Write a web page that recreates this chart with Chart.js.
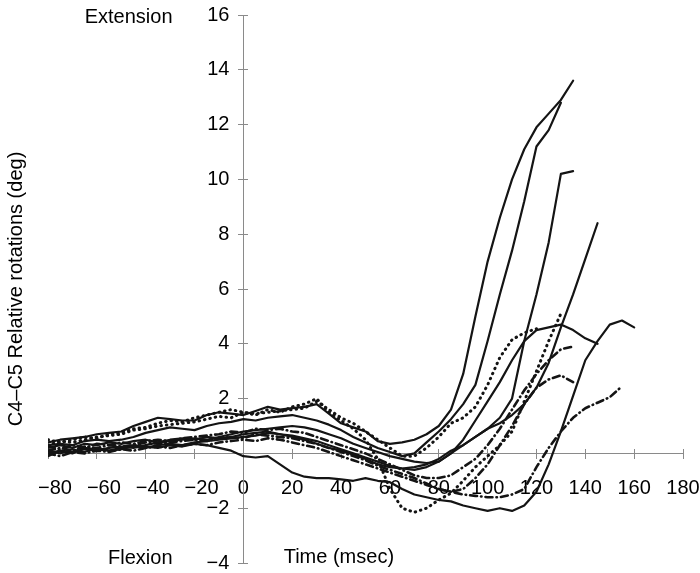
<!DOCTYPE html>
<html>
<head>
<meta charset="utf-8">
<title>C4–C5 relative rotations</title>
<script src="https://cdn.jsdelivr.net/npm/chart.js@4.4.1/dist/chart.umd.min.js"></script>
<style>
  html, body { margin: 0; padding: 0; background: #fff; }
  #wrap { width: 700px; height: 573px; position: relative; }
</style>
</head>
<body>
<div id="wrap"><canvas id="chart"></canvas></div>
<script>
// time axis shared by every trace (msec)
const timeMs = [-80, -75, -70, -65, -60, -55, -50, -45, -40, -35, -30, -25, -20, -15, -10, -5,
    0, 5, 10, 15, 20, 25, 30, 35, 40, 45, 50, 55, 60, 65, 70, 75, 80, 85, 90, 95,
    100, 105, 110, 115, 120, 125, 130, 135, 140, 145, 150, 155, 160];

const xTickValues = [-80, -60, -40, -20, 0, 20, 40, 60, 80, 100, 120, 140, 160, 180];
const yTickValues = [-4, -2, 0, 2, 4, 6, 8, 10, 12, 14, 16];

// relative rotations (deg); each array stops where its trace ends
const solid1 = [0.4, 0.5, 0.55, 0.6, 0.7, 0.75, 0.8, 1.0, 1.15, 1.3, 1.25, 1.2, 1.2, 1.4, 1.5, 1.45,
    1.4, 1.55, 1.7, 1.6, 1.65, 1.7, 1.8, 1.45, 1.1, 0.95, 0.8, 0.45, 0.35, 0.4, 0.5, 0.7, 1.0, 1.6, 2.9, 5.0,
    7.0, 8.6, 10.0, 11.1, 11.9, 12.4, 12.9, 13.6];
const solid2 = [0.3, 0.35, 0.3, 0.45, 0.5, 0.45, 0.5, 0.6, 0.75, 0.85, 0.95, 0.9, 0.85, 1.0, 1.1, 1.15,
    1.25, 1.2, 1.3, 1.35, 1.4, 1.3, 1.2, 1.05, 0.85, 0.6, 0.4, 0.2, 0.05, -0.1, 0.0, 0.4, 0.8, 1.25, 1.8, 2.5,
    4.1, 5.8, 7.4, 9.2, 11.2, 11.8, 12.8];
const solid3 = [0.1, 0.0, 0.15, 0.05, 0.2, 0.1, 0.15, 0.25, 0.2, 0.3, 0.35, 0.3, 0.4, 0.45, 0.5, 0.55,
    0.6, 0.65, 0.75, 0.7, 0.65, 0.55, 0.45, 0.3, 0.15, 0.0, -0.15, -0.3, -0.45, -0.55, -0.6, -0.5, -0.3, 0.0, 0.3, 0.6,
    0.9, 1.3, 2.0, 4.1, 5.8, 7.7, 10.2, 10.3];
const solid4 = [0.2, 0.3, 0.2, 0.35, 0.3, 0.4, 0.35, 0.45, 0.5, 0.4, 0.5, 0.55, 0.5, 0.6, 0.55, 0.6,
    0.7, 0.75, 0.8, 0.7, 0.6, 0.5, 0.35, 0.2, 0.1, -0.05, -0.2, -0.4, -0.5, -0.55, -0.5, -0.4, -0.2, 0.1, 0.3, 0.6,
    0.9, 1.1, 1.4, 1.8, 2.4, 3.3, 4.6, 5.8, 7.1, 8.4];
const solid5 = [0.0, 0.1, 0.05, 0.15, 0.1, 0.2, 0.25, 0.2, 0.3, 0.4, 0.45, 0.5, 0.55, 0.5, 0.6, 0.7,
    0.8, 0.85, 0.9, 0.95, 1.0, 0.95, 0.85, 0.7, 0.55, 0.35, 0.2, 0.05, -0.1, -0.2, -0.3, -0.35, -0.3, 0.0, 0.5, 1.2,
    1.9, 2.6, 3.4, 4.1, 4.5, 4.6, 4.7, 4.5, 4.2, 4.0];
const solid6 = [-0.1, 0.1, 0.0, 0.2, 0.15, 0.1, 0.2, 0.3, 0.25, 0.2, 0.3, 0.25, 0.35, 0.3, 0.2, 0.1,
    -0.1, -0.15, -0.1, -0.4, -0.7, -0.85, -0.9, -0.9, -0.95, -1.0, -0.9, -1.0, -1.05, -1.3, -1.5, -1.6, -1.7, -1.75, -1.9, -2.0,
    -2.1, -2.0, -2.1, -1.9, -1.4, -0.4, 0.8, 2.1, 3.4, 4.1, 4.7, 4.85, 4.6];
const dotted1 = [0.5, 0.4, 0.5, 0.6, 0.55, 0.7, 0.75, 0.9, 0.95, 1.1, 1.2, 1.15, 1.3, 1.4, 1.5, 1.6,
    1.5, 1.4, 1.6, 1.5, 1.7, 1.8, 2.0, 1.5, 1.2, 0.9, 0.5, -0.2, -1.3, -2.0, -2.15, -2.0, -1.7, -1.45, -1.0, -0.5,
    -0.1, 0.3, 0.8, 1.9, 3.0, 4.1, 5.1];
const dotted2 = [0.3, 0.45, 0.4, 0.5, 0.6, 0.65, 0.7, 0.85, 0.9, 1.0, 1.05, 1.1, 1.15, 1.25, 1.35, 1.3,
    1.5, 1.45, 1.5, 1.55, 1.6, 1.65, 1.9, 1.6, 1.3, 1.1, 0.8, 0.5, 0.2, -0.1, -0.1, 0.2, 0.6, 1.1, 1.3, 1.7,
    2.5, 3.5, 4.15, 4.4, 4.55];
const dashDot1 = [0.25, 0.15, 0.3, 0.2, 0.35, 0.3, 0.4, 0.35, 0.45, 0.5, 0.45, 0.55, 0.6, 0.65, 0.7, 0.8,
    0.75, 0.9, 0.85, 0.9, 0.8, 0.75, 0.6, 0.45, 0.3, 0.15, 0.0, -0.2, -0.4, -0.6, -0.8, -0.9, -0.9, -0.8, -0.5, -0.2,
    0.3, 0.9, 1.6, 2.3, 2.9, 3.4, 3.8, 3.9];
const dashDot2 = [0.1, 0.2, 0.1, 0.25, 0.2, 0.3, 0.25, 0.3, 0.4, 0.35, 0.4, 0.45, 0.5, 0.45, 0.55, 0.6,
    0.55, 0.7, 0.65, 0.6, 0.55, 0.45, 0.35, 0.2, 0.05, -0.1, -0.25, -0.45, -0.6, -0.75, -0.9, -1.1, -1.3, -1.4, -1.3, -0.9,
    -0.4, 0.3, 1.0, 1.8, 2.4, 2.7, 2.85, 2.6];
const dashDot3 = [0.0, -0.1, 0.05, 0.0, 0.1, 0.05, 0.15, 0.1, 0.2, 0.25, 0.2, 0.3, 0.35, 0.3, 0.4, 0.45,
    0.5, 0.45, 0.55, 0.5, 0.4, 0.3, 0.2, 0.05, -0.1, -0.25, -0.4, -0.55, -0.7, -0.85, -1.0, -1.15, -1.3, -1.4, -1.5, -1.55,
    -1.6, -1.6, -1.5, -1.3, -0.5, 0.2, 0.8, 1.3, 1.65, 1.85, 2.05, 2.45];

const traces = [
    { values: solid1, style: 'solid' },
    { values: solid2, style: 'solid' },
    { values: solid3, style: 'solid' },
    { values: solid4, style: 'solid' },
    { values: solid5, style: 'solid' },
    { values: solid6, style: 'solid' },
    { values: dotted1, style: 'dotted' },
    { values: dotted2, style: 'dotted' },
    { values: dashDot1, style: 'dashDot' },
    { values: dashDot2, style: 'dashDot' },
    { values: dashDot3, style: 'dashDot' },
];

const lineStyles = {
    solid: { borderWidth: 2.2, borderDash: [] },
    dotted: { borderWidth: 3, borderDash: [0.5, 5] },
    dashDot: { borderWidth: 2.6, borderDash: [7, 4, 0.5, 4] },
};

const FONT = '"Liberation Sans", Arial, Helvetica, sans-serif';
const AXIS_GREY = '#8a8a8a';
const minusLabel = v => (v < 0 ? '\u2212' + Math.abs(v) : String(v));

// scales positioned on the other axis still reserve room; give it back to the plot
const noRoom = (s, dim) => {
    s[dim] = 0;
    s.paddingLeft = s.paddingRight = s.paddingTop = s.paddingBottom = 0;
};

// one axis through the origin; a second copy with negative tick length makes the ticks cross the line
const crossedAxis = (axis, values, min, max, tickLength, ticks) => ({
    type: 'linear',
    axis,
    min,
    max,
    position: axis === 'x' ? { y: 0 } : { x: 0 },
    afterBuildTicks: s => { s.ticks = values.map(v => ({ value: v })); },
    afterFit: s => noRoom(s, axis === 'x' ? 'height' : 'width'),
    border: { display: true, color: AXIS_GREY, width: 1 },
    grid: { drawOnChartArea: false, drawTicks: true, tickLength, color: AXIS_GREY },
    ticks,
});

// free text around the axes
const axisNotes = {
    id: 'axisNotes',
    afterDraw(chart) {
        const { ctx, scales: { x, y }, chartArea } = chart;
        ctx.save();
        ctx.font = '20px ' + FONT;
        ctx.fillStyle = '#000';
        ctx.textBaseline = 'middle';
        ctx.textAlign = 'right';
        ctx.fillText('Extension', x.getPixelForValue(-29), y.getPixelForValue(15.9));
        ctx.fillText('Flexion', x.getPixelForValue(-29), y.getPixelForValue(-3.85));
        ctx.textAlign = 'left';
        ctx.fillText('Time (msec)', x.getPixelForValue(16.5), y.getPixelForValue(-3.8));
        ctx.translate(chartArea.left - 32, y.getPixelForValue(6.0));
        ctx.rotate(-Math.PI / 2);
        ctx.textAlign = 'center';
        ctx.fillText('C4\u2013C5 Relative rotations (deg)', 0, 0);
        ctx.restore();
    }
};

new Chart(document.getElementById('chart'), {
    type: 'line',
    data: {
        datasets: traces.map(t => ({
            data: t.values.map((v, i) => ({ x: timeMs[i], y: v })),
            borderColor: '#141414',
            borderCapStyle: 'round',
            borderJoinStyle: 'round',
            pointRadius: 0,
            tension: 0,
            fill: false,
            ...lineStyles[t.style],
        }))
    },
    options: {
        responsive: true,
        maintainAspectRatio: false,
        animation: false,
        layout: { padding: { left: 48, right: 17, top: 15, bottom: 10 } },
        plugins: {
            legend: { display: false },
            tooltip: { enabled: false },
        },
        scales: {
            x: crossedAxis('x', xTickValues, -80, 180, 5, {
                color: '#000',
                font: { family: FONT, size: 20 },
                padding: 18,
                maxRotation: 0,
                autoSkip: false,
                // negative labels sit a little right of their tick in the original
                callback: v => (v < 0 ? '\u2002\u2009' : '') + minusLabel(v),
            }),
            y: crossedAxis('y', yTickValues, -4, 16, 5, {
                color: '#000',
                font: { family: FONT, size: 20 },
                autoSkip: false,
                // labels are right-aligned on the axis line itself, so pad them with trailing space
                callback: v => (v === 0 ? '' : minusLabel(v) + '\u2002\u2009'),
            }),
            xCross: crossedAxis('x', xTickValues, -80, 180, -5, { display: false }),
            yCross: crossedAxis('y', yTickValues, -4, 16, -5, { display: false }),
        },
    },
    plugins: [axisNotes],
});
</script>
</body>
</html>
